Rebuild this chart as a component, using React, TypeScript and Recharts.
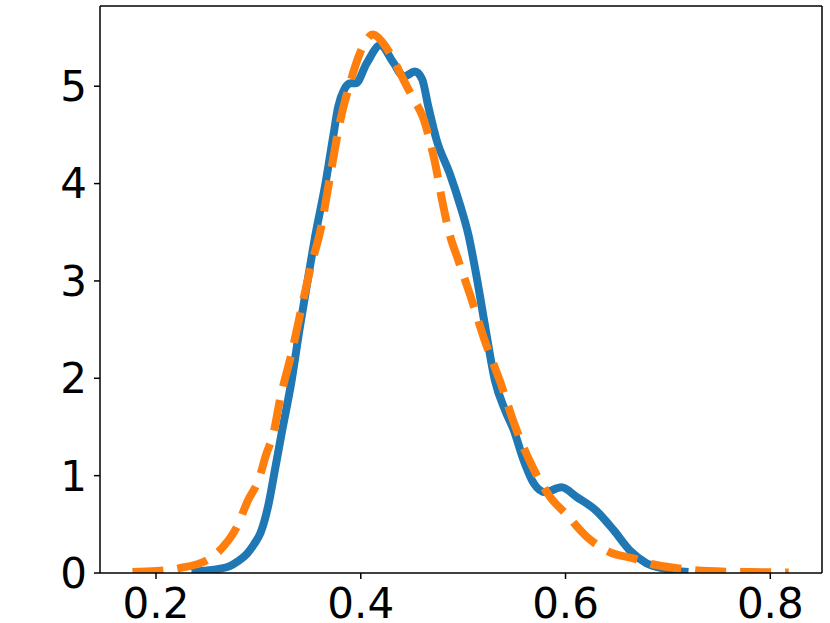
import { LineChart, Line, XAxis, YAxis, ReferenceLine } from "recharts"

// density values
const blueX = [0.235, 0.245, 0.26, 0.272, 0.28, 0.289, 0.296, 0.302, 0.31, 0.316, 0.323, 0.3325, 0.3406, 0.3487, 0.3553, 0.365, 0.373, 0.378, 0.384, 0.39, 0.395, 0.406, 0.419, 0.432, 0.442, 0.453, 0.46, 0.466, 0.474, 0.487, 0.497, 0.505, 0.513, 0.522, 0.531, 0.541, 0.549, 0.559, 0.569, 0.58, 0.596, 0.611, 0.63, 0.647, 0.663, 0.679, 0.699, 0.72]
const blueY = [0.0, 0.02, 0.04, 0.07, 0.12, 0.2, 0.3, 0.41, 0.71, 1.05, 1.45, 1.98, 2.53, 3.04, 3.45, 3.97, 4.48, 4.79, 4.97, 5.03, 5.03, 5.24, 5.42, 5.24, 5.1, 5.15, 5.07, 4.79, 4.45, 4.1, 3.78, 3.48, 3.05, 2.5, 1.98, 1.67, 1.48, 1.16, 0.92, 0.83, 0.88, 0.78, 0.64, 0.44, 0.23, 0.1, 0.04, 0.01]

const orangeX = [0.177, 0.2, 0.223, 0.2495, 0.2657, 0.2788, 0.29, 0.3, 0.308, 0.3146, 0.3211, 0.3325, 0.3423, 0.352, 0.36, 0.37, 0.38, 0.3895, 0.3992, 0.412, 0.422, 0.432, 0.442, 0.452, 0.46, 0.466, 0.472, 0.48, 0.487, 0.494, 0.507, 0.521, 0.538, 0.549, 0.565, 0.585, 0.601, 0.621, 0.642, 0.666, 0.685, 0.709, 0.74, 0.78, 0.818]
const orangeY = [0.01, 0.02, 0.05, 0.13, 0.27, 0.47, 0.75, 0.95, 1.23, 1.43, 1.78, 2.26, 2.73, 3.18, 3.49, 4.07, 4.65, 5.03, 5.34, 5.53, 5.44, 5.27, 5.06, 4.86, 4.7, 4.5, 4.24, 3.8, 3.47, 3.25, 2.85, 2.39, 1.91, 1.56, 1.15, 0.78, 0.6, 0.37, 0.22, 0.15, 0.09, 0.05, 0.02, 0.01, 0.005]

const xTicks = [0.2, 0.4, 0.6, 0.8]
const yTicks = [0, 1, 2, 3, 4, 5]
const xDomain = [0.1453, 0.8505]
const yDomain = [0, 5.824]

const blueData = blueX.map((x, i) => ({ x, y: blueY[i] }))
const orangeData = orangeX.map((x, i) => ({ x, y: orangeY[i] }))

const tickStyle = { fill: "#000", fontSize: 42, fontFamily: "DejaVu Sans" }

export default function App() {
  return (
    <div style={{ position: "absolute", left: 0, top: 0, background: "#fff" }}>
      <LineChart width={830} height={623} margin={{ top: 6, right: 8, left: 0, bottom: 0 }}>
        <XAxis
          dataKey="x"
          type="number"
          domain={xDomain}
          ticks={xTicks}
          tickFormatter={(v) => v.toFixed(1)}
          height={50}
          tickSize={6}
          tickMargin={9}
          tick={tickStyle}
          stroke="#000"
          strokeWidth={1.5}
          allowDataOverflow
        />
        <YAxis
          dataKey="y"
          type="number"
          domain={yDomain}
          ticks={yTicks}
          width={100}
          tickSize={6}
          tickMargin={7}
          tick={tickStyle}
          stroke="#000"
          strokeWidth={1.5}
          allowDataOverflow
        />
        {/* frame: top and right spines */}
        <ReferenceLine y={yDomain[1]} stroke="#000" strokeWidth={1.5} />
        <ReferenceLine x={xDomain[1]} stroke="#000" strokeWidth={1.5} />
        <Line data={blueData} dataKey="y" type="monotone" stroke="#1f77b4" strokeWidth={8} dot={false} isAnimationActive={false} />
        <Line data={orangeData} dataKey="y" type="monotone" stroke="#ff7f0e" strokeWidth={8} strokeDasharray="31 14" dot={false} isAnimationActive={false} />
      </LineChart>
    </div>
  )
}
